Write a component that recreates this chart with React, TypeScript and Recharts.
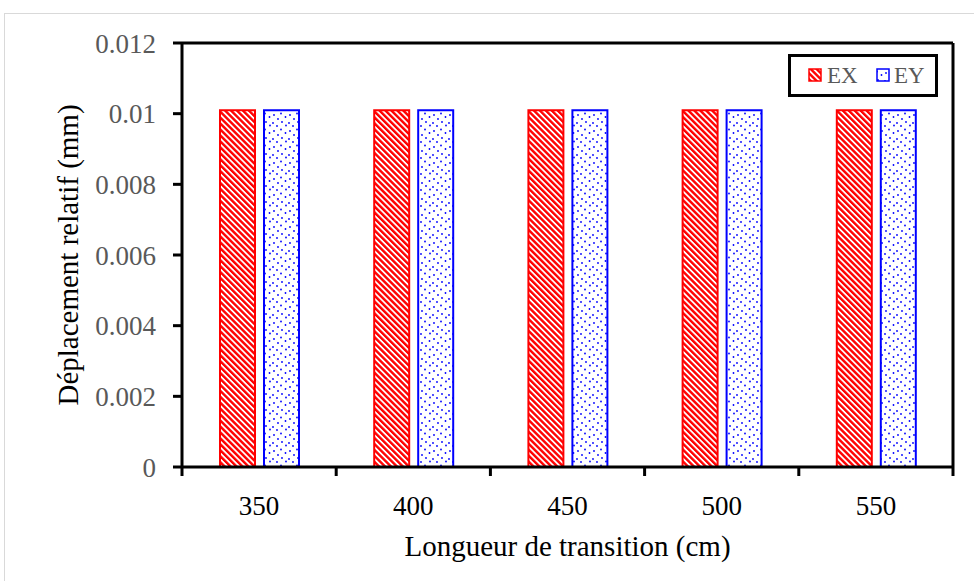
import React from 'react';
import { BarChart, Bar, XAxis, YAxis } from 'recharts';

const categories = ['350', '400', '450', '500', '550'];
const exValues = [0.0101, 0.0101, 0.0101, 0.0101, 0.0101];
const eyValues = [0.0101, 0.0101, 0.0101, 0.0101, 0.0101];
const yTicks = [0, 0.002, 0.004, 0.006, 0.008, 0.01, 0.012];
const boundaryTicks = [0, 1, 2, 3, 4, 5];
const seriesNames = ['EX', 'EY'];
const xTitle = 'Longueur de transition (cm)';
const yTitle = 'Déplacement relatif (mm)';

const data = categories.map((c, i) => ({ cat: c, EX: exValues[i], EY: eyValues[i] }));

const FONT = '"Liberation Serif", "Times New Roman", serif';
const GRAY = '#595959';

const EmptyTick = () => <g />;

const Patterns = () => (
  <svg width={0} height={0} style={{ position: 'absolute' }}>
    <defs>
      <pattern id="exPat" patternUnits="userSpaceOnUse" width={4.2} height={4.2} patternTransform="rotate(-45)">
        <rect x={0} y={0} width={4.2} height={4.2} fill="#fff" />
        <rect x={0} y={0} width={2.4} height={4.2} fill="#ff0000" />
      </pattern>
      <pattern id="eyPat" patternUnits="userSpaceOnUse" width={16} height={16}>
        <rect x={0} y={0} width={16} height={16} fill="#fff" />
        <circle cx={2} cy={3} r={0.9} fill="#0000ff" />
        <circle cx={9} cy={1.5} r={0.9} fill="#0000ff" />
        <circle cx={13.5} cy={5} r={0.9} fill="#0000ff" />
        <circle cx={6} cy={7} r={0.9} fill="#0000ff" />
        <circle cx={1} cy={11} r={0.9} fill="#0000ff" />
        <circle cx={10} cy={10} r={0.9} fill="#0000ff" />
        <circle cx={5} cy={14} r={0.9} fill="#0000ff" />
        <circle cx={14} cy={13.5} r={0.9} fill="#0000ff" />
      </pattern>
    </defs>
  </svg>
);

const Legend = () => (
  <svg width={150} height={43} style={{ position: 'absolute', left: 788, top: 54 }}>
    <rect x={1.5} y={1.5} width={147} height={40} fill="#fff" stroke="#000" strokeWidth={3} />
    <rect x={21} y={15} width={12} height={12} fill="url(#exPat)" stroke="#ff0000" strokeWidth={1.5} />
    <text x={39} y={29} fontFamily={FONT} fontSize={23} fill={GRAY}>{seriesNames[0]}</text>
    <rect x={89} y={15} width={12} height={12} fill="url(#eyPat)" stroke="#0000ff" strokeWidth={1.5} />
    <text x={106} y={29} fontFamily={FONT} fontSize={23} fill={GRAY}>{seriesNames[1]}</text>
  </svg>
);

export default function App() {
  return (
    <div style={{ position: 'absolute', left: 0, top: 0, width: 974, height: 581, background: '#fff', overflow: 'hidden' }}>
      <Patterns />
      <div style={{ position: 'absolute', left: 4, top: 13, width: 1200, height: 800, border: '1px solid #d9d9d9' }} />
      <div style={{ position: 'absolute', left: 0, top: 0 }}>
        <BarChart
          width={974}
          height={581}
          data={data}
          margin={{ top: 42, right: 20, left: 0, bottom: 53 }}
          barGap={9}
        >
          <XAxis
            xAxisId="b"
            type="number"
            dataKey="idx"
            domain={[0, 5]}
            ticks={boundaryTicks}
            height={1}
            tick={<EmptyTick />}
            tickSize={9}
            tickLine={{ stroke: '#000', strokeWidth: 3 }}
            axisLine={{ stroke: '#000', strokeWidth: 3 }}
            allowDataOverflow
          />
          <XAxis
            xAxisId="c"
            dataKey="cat"
            height={60}
            tickSize={0}
            tickMargin={28}
            tickLine={false}
            axisLine={false}
            tick={{ fontFamily: FONT, fontSize: 27, fill: '#000' }}
            label={{
              content: (p: any) => {
                const vb = p.viewBox || { x: 182, y: 468, width: 771, height: 60 };
                return (
                  <text x={vb.x + vb.width / 2} y={vb.y + 88} textAnchor="middle" fontFamily={FONT} fontSize={29} fill="#000">
                    {xTitle}
                  </text>
                );
              },
            }}
          />
          <XAxis
            xAxisId="t"
            orientation="top"
            dataKey="cat"
            height={1}
            tick={false}
            tickLine={false}
            axisLine={{ stroke: '#000', strokeWidth: 3 }}
          />
          <YAxis
            yAxisId="l"
            width={182}
            domain={[0, 0.012]}
            ticks={yTicks}
            interval={0}
            tickSize={9}
            tickMargin={17}
            tickLine={{ stroke: '#000', strokeWidth: 3 }}
            axisLine={{ stroke: '#000', strokeWidth: 3 }}
            tick={{ fontFamily: FONT, fontSize: 27, fill: GRAY }}
            label={{
              content: (p: any) => {
                const vb = p.viewBox || { x: 0, y: 43, width: 182, height: 424 };
                const cx = vb.x + 68;
                const cy = vb.y + vb.height / 2;
                return (
                  <text
                    x={cx}
                    y={cy}
                    transform={`rotate(-90 ${cx} ${cy})`}
                    textAnchor="middle"
                    dominantBaseline="central"
                    fontFamily={FONT}
                    fontSize={29}
                    fill="#000"
                  >
                    {yTitle}
                  </text>
                );
              },
            }}
          />
          <YAxis
            yAxisId="r"
            orientation="right"
            width={1}
            domain={[0, 0.012]}
            tick={false}
            tickLine={false}
            axisLine={{ stroke: '#000', strokeWidth: 3 }}
          />
          <Bar
            xAxisId="c"
            yAxisId="l"
            dataKey="EX"
            name={seriesNames[0]}
            barSize={35}
            fill="url(#exPat)"
            stroke="#ff0000"
            strokeWidth={2}
            isAnimationActive={false}
          />
          <Bar
            xAxisId="c"
            yAxisId="l"
            dataKey="EY"
            name={seriesNames[1]}
            barSize={35}
            fill="url(#eyPat)"
            stroke="#0000ff"
            strokeWidth={2}
            isAnimationActive={false}
          />
        </BarChart>
      </div>
      <Legend />
    </div>
  );
}
